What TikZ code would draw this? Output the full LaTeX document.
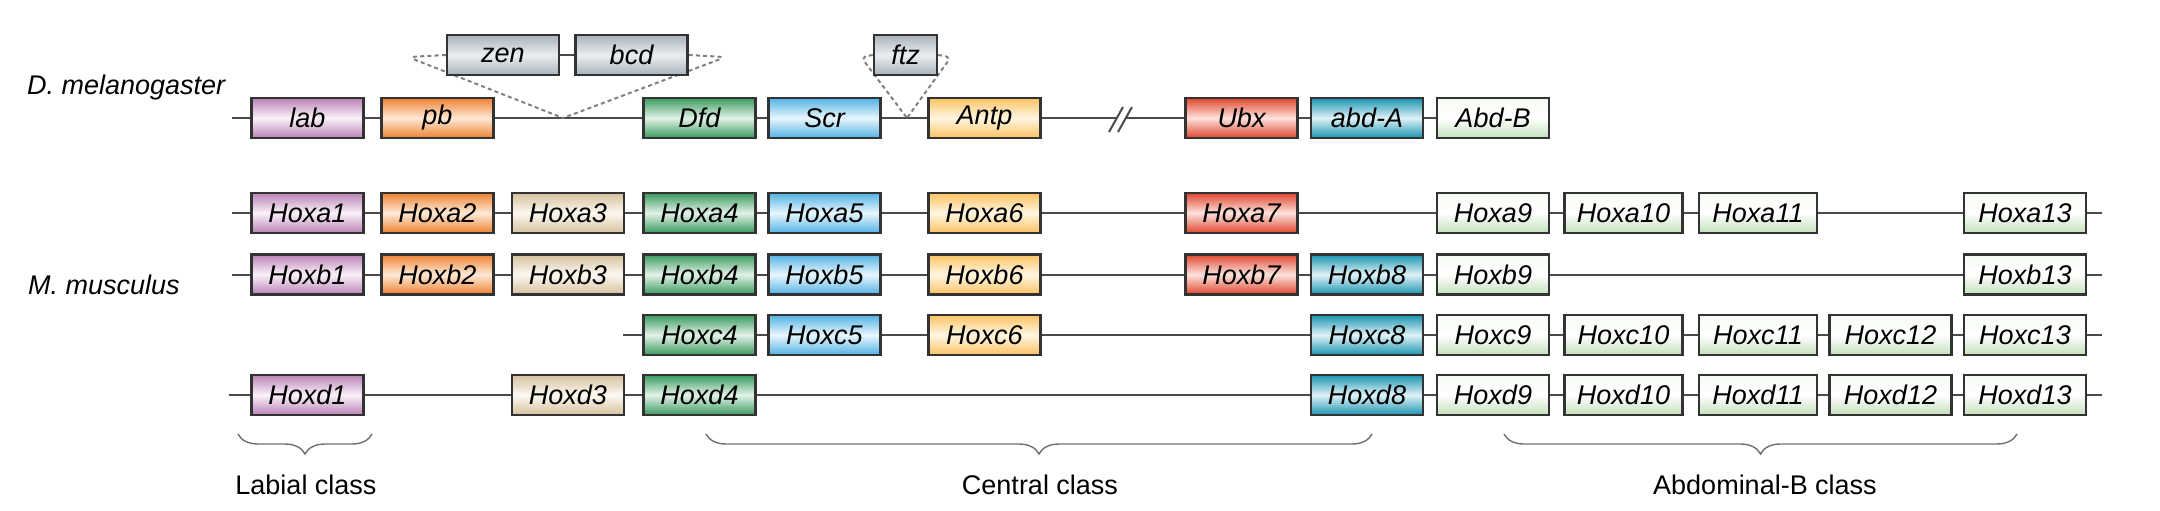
\documentclass[tikz,border=0pt]{standalone}
\usepackage{fontspec}
\setmainfont{Liberation Sans}
\usepackage{tikz}
\usetikzlibrary{decorations.pathreplacing,backgrounds}
\definecolor{boxline}{HTML}{333333}
\definecolor{lineg}{HTML}{4A4A4A}
\definecolor{dotg}{HTML}{808080}
\definecolor{braceg}{HTML}{707070}
\definecolor{cA}{HTML}{BA82B6}\definecolor{cAl}{HTML}{FAF1F9}
\definecolor{cB}{HTML}{EE8232}\definecolor{cBl}{HTML}{FEE9D6}
\definecolor{cC}{HTML}{D6C19E}\definecolor{cCl}{HTML}{FCF8F1}
\definecolor{cD}{HTML}{3A9A5E}\definecolor{cDl}{HTML}{E2F2E7}
\definecolor{cE}{HTML}{52B2E4}\definecolor{cEl}{HTML}{E8F6FD}
\definecolor{cF}{HTML}{FBC262}\definecolor{cFl}{HTML}{FFF6E2}
\definecolor{cG}{HTML}{E0452E}\definecolor{cGl}{HTML}{FCE3DC}
\definecolor{cH}{HTML}{1894B0}\definecolor{cHl}{HTML}{E0F2F7}
\definecolor{cI}{HTML}{C3E0BC}\definecolor{cIl}{HTML}{F6FBF4}
\definecolor{cZ}{HTML}{A9B2BB}\definecolor{cZl}{HTML}{EBEEF1}
\tikzset{
	gene/.style={draw=boxline,line width=1.2pt,minimum width=56pt,minimum height=20pt,inner sep=0pt,font=\fontsize{13.5}{16}\selectfont\itshape},
	hox1/.style={gene,top color=cA,bottom color=cA,middle color=cAl},
	hox2/.style={gene,top color=cB,bottom color=cB,middle color=cBl},
	hox3/.style={gene,top color=cC,bottom color=cC,middle color=cCl},
	hox4/.style={gene,top color=cD,bottom color=cD,middle color=cDl},
	hox5/.style={gene,top color=cE,bottom color=cE,middle color=cEl},
	hox6/.style={gene,top color=cF,bottom color=cF,middle color=cFl},
	hox7/.style={gene,top color=cG,bottom color=cG,middle color=cGl},
	hox8/.style={gene,top color=cH,bottom color=cH,middle color=cHl},
	hox9/.style={gene,top color=cIl,bottom color=cI,middle color=white},
	outgene/.style={gene,top color=cZ,bottom color=cZ,middle color=cZl},
	wide/.style={minimum width=59pt},
	wider/.style={minimum width=61pt},
	chrom/.style={draw=lineg,line width=1pt},
	funnel/.style={draw=dotg,line width=1pt,dash pattern=on 2pt off 1.6pt},
	classbrace/.style={draw=braceg,line width=0.7pt,decorate,decoration={brace,mirror,amplitude=10pt}},
	species/.style={anchor=west,font=\fontsize{13.5}{16}\selectfont\itshape},
	classlabel/.style={font=\fontsize{13.5}{16}\selectfont}
}
\begin{document}
\begin{tikzpicture}[x=0.5pt,y=-0.5pt]
	\useasboundingbox (0,0) rectangle (2160,510);
	\node[species] (dmel) at (20,88) {D. melanogaster};
	\node[species] (mmus) at (21,285) {M. musculus};
	\node[hox1] (lab) at (307.5,118) {lab};
	\node[hox2] (pb) at (437.5,118) {pb};
	\node[hox4] (dfd) at (699.5,118) {Dfd};
	\node[hox5] (scr) at (824.5,118) {Scr};
	\node[hox6] (antp) at (984.5,118) {Antp};
	\node[hox7] (ubx) at (1241.5,118) {Ubx};
	\node[hox8] (abdA) at (1367,118) {abd-A};
	\node[hox9] (abdB) at (1493,118) {Abd-B};
	\node[outgene] (zen) at (503,55) {zen};
	\node[outgene] (bcd) at (631.5,55) {bcd};
	\node[outgene,minimum width=31.5pt] (ftz) at (905.5,55) {ftz};
	\coordinate (dstart) at (232,118);
	\coordinate (zapex) at (563,118);
	\coordinate (ztipl) at (408,57);
	\coordinate (ztipr) at (726,57);
	\coordinate (fapex) at (907,118);
	\coordinate (ftipl) at (861,57);
	\coordinate (ftipr) at (951,57);
	\coordinate (brk) at (1121,119);
	\node[hox1] (hoxa1) at (307.5,213) {Hoxa1};
	\node[hox2] (hoxa2) at (437.5,213) {Hoxa2};
	\node[hox3] (hoxa3) at (568,213) {Hoxa3};
	\node[hox4] (hoxa4) at (699.5,213) {Hoxa4};
	\node[hox5] (hoxa5) at (824.5,213) {Hoxa5};
	\node[hox6] (hoxa6) at (984.5,213) {Hoxa6};
	\node[hox7] (hoxa7) at (1241.5,213) {Hoxa7};
	\node[hox9] (hoxa9) at (1493,213) {Hoxa9};
	\node[hox9,wide] (hoxa10) at (1623.5,213) {Hoxa10};
	\node[hox9,wide] (hoxa11) at (1758,213) {Hoxa11};
	\node[hox9,wider] (hoxa13) at (2025,213) {Hoxa13};
	\node[hox1] (hoxb1) at (307.5,274.5) {Hoxb1};
	\node[hox2] (hoxb2) at (437.5,274.5) {Hoxb2};
	\node[hox3] (hoxb3) at (568,274.5) {Hoxb3};
	\node[hox4] (hoxb4) at (699.5,274.5) {Hoxb4};
	\node[hox5] (hoxb5) at (824.5,274.5) {Hoxb5};
	\node[hox6] (hoxb6) at (984.5,274.5) {Hoxb6};
	\node[hox7] (hoxb7) at (1241.5,274.5) {Hoxb7};
	\node[hox8] (hoxb8) at (1367,274.5) {Hoxb8};
	\node[hox9] (hoxb9) at (1493,274.5) {Hoxb9};
	\node[hox9,wider] (hoxb13) at (2025,274.5) {Hoxb13};
	\node[hox4] (hoxc4) at (699.5,335) {Hoxc4};
	\node[hox5] (hoxc5) at (824.5,335) {Hoxc5};
	\node[hox6] (hoxc6) at (984.5,335) {Hoxc6};
	\node[hox8] (hoxc8) at (1367,335) {Hoxc8};
	\node[hox9] (hoxc9) at (1493,335) {Hoxc9};
	\node[hox9,wide] (hoxc10) at (1623.5,335) {Hoxc10};
	\node[hox9,wide] (hoxc11) at (1758,335) {Hoxc11};
	\node[hox9,wider] (hoxc12) at (1890.5,335) {Hoxc12};
	\node[hox9,wider] (hoxc13) at (2025,335) {Hoxc13};
	\node[hox1] (hoxd1) at (307.5,395) {Hoxd1};
	\node[hox3] (hoxd3) at (568,395) {Hoxd3};
	\node[hox4] (hoxd4) at (699.5,395) {Hoxd4};
	\node[hox8] (hoxd8) at (1367,395) {Hoxd8};
	\node[hox9] (hoxd9) at (1493,395) {Hoxd9};
	\node[hox9,wide] (hoxd10) at (1623.5,395) {Hoxd10};
	\node[hox9,wide] (hoxd11) at (1758,395) {Hoxd11};
	\node[hox9,wider] (hoxd12) at (1890.5,395) {Hoxd12};
	\node[hox9,wider] (hoxd13) at (2025,395) {Hoxd13};
	\coordinate (astart) at (232,213);
	\coordinate (aend) at (2102,213);
	\coordinate (bstart) at (232,274.5);
	\coordinate (bend) at (2102,274.5);
	\coordinate (cstart) at (623,335);
	\coordinate (cend) at (2102,335);
	\coordinate (dstartm) at (229,395);
	\coordinate (dend) at (2102,395);
	\begin{scope}[on background layer]
		\draw[chrom] (dstart) -- (abdB.center);
		\draw[chrom] (zen) -- (bcd);
		\draw[chrom] (astart) -- (aend);
		\draw[chrom] (bstart) -- (bend);
		\draw[chrom] (cstart) -- (cend);
		\draw[chrom] (dstartm) -- (dend);
		\draw[funnel,rounded corners=4pt] (zen.west) -- (ztipl) -- (zapex);
		\draw[funnel,rounded corners=4pt] (bcd.east) -- (ztipr) -- (zapex);
		\draw[funnel,rounded corners=3pt] (ftz.west) -- (ftipl) -- (fapex);
		\draw[funnel,rounded corners=3pt] (ftz.east) -- (ftipr) -- (fapex);
	\end{scope}
	\fill[white] (brk) ++(-12,13) -- ++(14,-25) -- ++(9,0) -- ++(-14,25) -- cycle;
	\draw[chrom] (brk) ++(-12,13) -- ++(14,-25);
	\draw[chrom] (brk) ++(-3,13) -- ++(14,-25);
	\coordinate (labl) at (238,434);
	\coordinate (labr) at (372,434);
	\coordinate (cenl) at (706,434);
	\coordinate (cenr) at (1372,434);
	\coordinate (abdl) at (1504,434);
	\coordinate (abdr) at (2017,434);
	\draw[classbrace] (labl) -- (labr);
	\draw[classbrace] (cenl) -- (cenr);
	\draw[classbrace] (abdl) -- (abdr);
	\node[classlabel] (labial) at (306,485) {Labial class};
	\node[classlabel] (central) at (1040,485) {Central class};
	\node[classlabel] (abdominal) at (1765,485) {Abdominal-B class};
\end{tikzpicture}
\end{document}
